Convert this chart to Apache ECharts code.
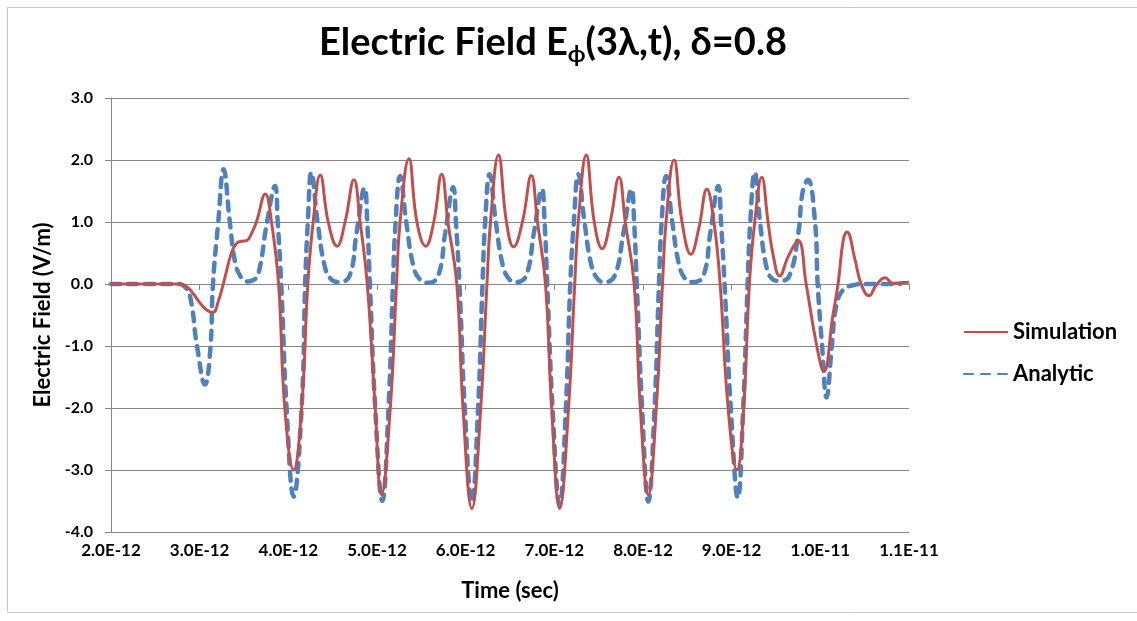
<!DOCTYPE html>
<html>
<head>
<meta charset="utf-8">
<script src="https://cdn.jsdelivr.net/npm/echarts@6/dist/echarts.min.js"></script>
<style>
html,body{margin:0;padding:0;background:#ffffff;}
#chart{width:1137px;height:621px;}
</style>
</head>
<body>
<div id="chart"></div>
<script>
// time in units of 1E-12 s (ps)
var xTickLabels = ['2.0E-12','3.0E-12','4.0E-12','5.0E-12','6.0E-12','7.0E-12','8.0E-12','9.0E-12','1.0E-11','1.1E-11'];
var seriesNames = ['Simulation', 'Analytic'];

var simTime = [2.0,2.5,2.78,2.85,2.92,3.0,3.08,3.15,3.21,3.27,3.36,3.42,3.47,3.53,3.58,3.64,3.74,3.81,3.89,3.96,4.06,4.15,4.22,4.28,4.36,4.45,4.55,4.64,4.74,4.81,4.89,4.98,5.05,5.15,5.22,5.26,5.36,5.45,5.55,5.64,5.73,5.80,5.90,5.97,6.07,6.17,6.24,6.28,6.37,6.46,6.54,6.64,6.74,6.81,6.90,6.97,7.06,7.16,7.23,7.27,7.36,7.45,7.54,7.63,7.73,7.80,7.90,7.97,8.06,8.15,8.22,8.26,8.35,8.44,8.54,8.63,8.72,8.80,8.87,8.96,9.06,9.13,9.20,9.26,9.34,9.41,9.47,9.54,9.64,9.75,9.84,9.96,10.04,10.14,10.20,10.26,10.30,10.39,10.46,10.55,10.63,10.73,10.82,10.9,11.0];
var simValue = [0,0,0,-0.04,-0.14,-0.30,-0.42,-0.46,-0.28,0.02,0.51,0.66,0.69,0.70,0.80,1.0,1.45,1.0,0,-2,-3.0,-2,0,1.0,1.76,1.0,0.61,1.0,1.68,1.0,0,-2,-3.40,-2,0,1.0,2.02,1.0,0.61,1.0,1.77,1.0,0,-2,-3.62,-2,0,1.0,2.08,1.0,0.60,1.0,1.75,1.0,0,-2,-3.62,-2,0,1.0,2.08,1.0,0.57,1.0,1.72,1.0,0,-2,-3.40,-2,0,1.0,2.0,1.0,0.48,0.9,1.53,1.0,0,-2,-3.0,-2.13,0,1.0,1.72,1.0,0.45,0.13,0.45,0.70,0,-1.0,-1.41,-0.52,0,0.72,0.84,0.40,0,-0.19,-0.02,0.10,0.01,0.02,0.03];

var anaTime = [2.0,2.5,2.75,2.82,2.89,2.97,3.06,3.12,3.15,3.21,3.27,3.34,3.40,3.47,3.53,3.60,3.66,3.76,3.85,3.88,3.92,3.98,4.06,4.15,4.19,4.22,4.26,4.33,4.41,4.48,4.57,4.69,4.77,4.86,4.89,4.92,4.98,5.06,5.13,5.18,5.21,5.26,5.33,5.41,5.48,5.58,5.69,5.77,5.86,5.89,5.93,5.99,6.07,6.14,6.19,6.22,6.27,6.34,6.42,6.49,6.56,6.68,6.77,6.86,6.89,6.92,6.98,7.06,7.13,7.18,7.22,7.27,7.34,7.42,7.49,7.56,7.68,7.78,7.87,7.90,7.93,7.99,8.06,8.13,8.18,8.21,8.26,8.33,8.41,8.48,8.56,8.68,8.76,8.85,8.88,8.92,8.99,9.07,9.13,9.18,9.21,9.26,9.32,9.39,9.46,9.54,9.65,9.75,9.80,9.86,9.94,9.97,10.02,10.07,10.13,10.18,10.26,10.37,10.5,10.9];
var anaValue = [0,0,0,-0.03,-0.19,-1.0,-1.62,-1.05,0,1.0,1.85,1.0,0.35,0.10,0.04,0.06,0.15,1.0,1.58,1.0,0,-2,-3.43,-2,0,1.0,1.80,1.0,0.29,0.08,0.03,0.13,0.83,1.55,1.0,0,-2,-3.50,-2,0,1.0,1.74,1.0,0.29,0.08,0.02,0.13,0.83,1.56,1.0,0,-2,-3.52,-2,0,1.0,1.77,1.0,0.29,0.08,0.03,0.13,0.83,1.53,1.0,0,-2,-3.56,-2,0,1.0,1.77,1.0,0.29,0.08,0.03,0.13,0.83,1.53,1.0,0,-2,-3.51,-2,0,1.0,1.74,1.0,0.29,0.08,0.03,0.13,0.83,1.58,1.0,0,-2,-3.45,-2,0,1.0,1.80,1.0,0.29,0.08,0.05,0.13,0.80,1.48,1.68,1.0,0,-1.0,-1.83,-1.0,-0.35,-0.09,-0.02,0,0];

function pairs(xs, ys){ var out=[]; for(var i=0;i<xs.length;i++){ out.push([xs[i], ys[i]]); } return out; }

var FONT = 'Lato, "Open Sans", sans-serif';
var chart = echarts.init(document.getElementById('chart'), null, {renderer:'canvas'});
chart.setOption({
  animation:false,
  backgroundColor:'#ffffff',
  title:{
    text:'{a|Electric Field E}{s|ϕ}{a|(3λ,t), δ=0.8}',
    left:314, top:15,
    textStyle:{
      rich:{
        a:{fontFamily:FONT, fontWeight:'bold', fontSize:38, color:'#000000', lineHeight:46, verticalAlign:'middle'},
        s:{fontFamily:FONT, fontWeight:'bold', fontSize:23, color:'#000000', lineHeight:22, verticalAlign:'bottom'}
      }
    }
  },
  graphic:[{
    type:'rect', silent:true, z:-10,
    shape:{x:7.5, y:7.5, width:1140, height:605},
    style:{fill:'none', stroke:'#c8c8c8', lineWidth:1}
  }],
  legend:{
    orient:'vertical', left:958, top:316,
    itemWidth:44, itemHeight:14, itemGap:20,
    itemStyle:{opacity:0},
    textStyle:{fontFamily:FONT, fontWeight:'bold', fontSize:22, lineHeight:20, color:'#000000'},
    data:seriesNames
  },
  grid:{left:111, right:228, top:98, bottom:89, containLabel:false},
  xAxis:{
    type:'value', min:2, max:11, interval:1,
    name:'Time (sec)', nameLocation:'middle', nameGap:48,
    nameTextStyle:{fontFamily:FONT, fontWeight:'bold', fontSize:22, color:'#000000'},
    axisLine:{show:true, lineStyle:{color:'#868686', width:1}},
    axisTick:{show:true, length:6, lineStyle:{color:'#868686'}},
    axisLabel:{margin:10, fontFamily:FONT, fontWeight:'bold', fontSize:17, color:'#000000',
      formatter:function(v){ var i=Math.round(v-2); return xTickLabels[i]||''; }},
    splitLine:{show:false}
  },
  yAxis:{
    type:'value', min:-4, max:3, interval:1,
    name:'Electric Field (V/m)', nameLocation:'middle', nameGap:55, nameRotate:90,
    nameTextStyle:{fontFamily:FONT, fontWeight:'bold', fontSize:22, color:'#000000'},
    axisLine:{show:true, onZero:false, lineStyle:{color:'#868686', width:1}},
    axisTick:{show:true, length:6, lineStyle:{color:'#868686'}},
    axisLabel:{margin:18, fontFamily:FONT, fontWeight:'bold', fontSize:16, color:'#000000',
      formatter:function(v){ return v.toFixed(1); }},
    splitLine:{show:true, lineStyle:{color:'#868686', width:1}}
  },
  series:[
    {
      name:seriesNames[0], type:'line', data:pairs(simTime, simValue),
      symbol:'none', smooth:0.45, z:3,
      lineStyle:{color:'#C0504D', width:3},
      itemStyle:{color:'#C0504D'}
    },
    {
      name:seriesNames[1], type:'line', data:pairs(anaTime, anaValue),
      symbol:'none', smooth:0.45, z:2,
      lineStyle:{color:'#4F81BD', width:4.5, type:[9,8], cap:'round'},
      itemStyle:{color:'#4F81BD'}
    }
  ]
});
</script>
</body>
</html>
